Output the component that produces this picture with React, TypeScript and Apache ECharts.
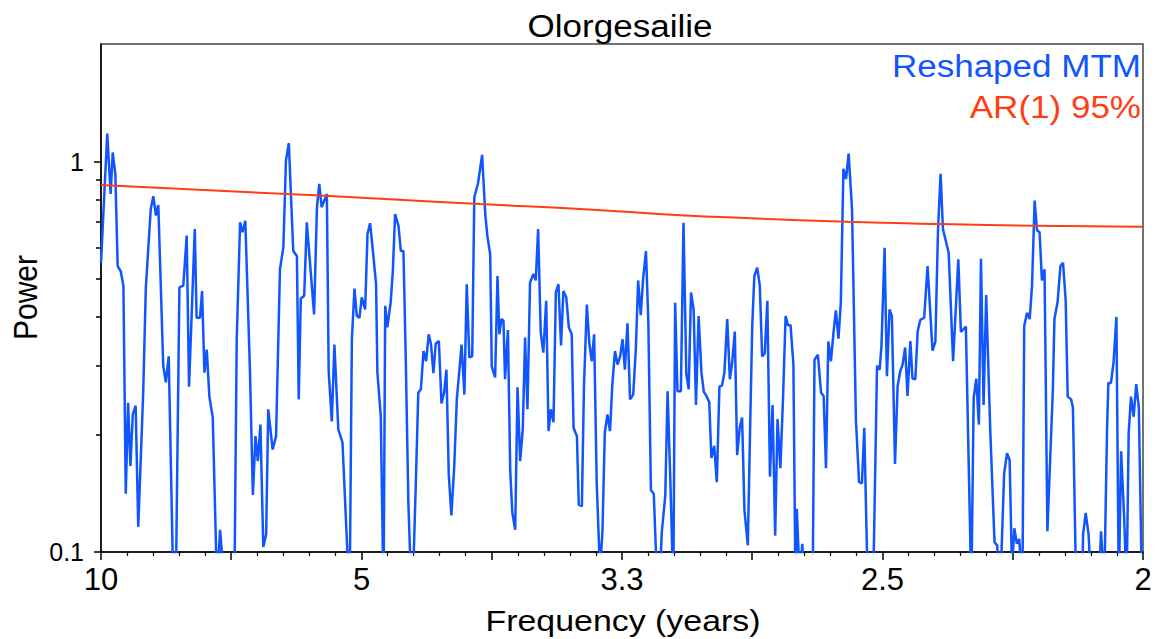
import React, { useEffect, useRef } from "react";
import * as echarts from "echarts";

// Reshaped MTM spectrum: frequency (1/years) and power
const MTM_FREQ = [
  0.1000, 0.1024, 0.1037, 0.1045, 0.1055, 0.1064, 0.1076, 0.1086, 0.1095, 0.1104,
  0.1113, 0.1122, 0.1133, 0.1143, 0.1162, 0.1172, 0.1191, 0.1201, 0.1211, 0.1220,
  0.1239, 0.1249, 0.1260, 0.1275, 0.1285, 0.1301, 0.1316, 0.1329, 0.1338, 0.1360,
  0.1367, 0.1380, 0.1388, 0.1397, 0.1406, 0.1416, 0.1429, 0.1442, 0.1449, 0.1457,
  0.1465, 0.1488, 0.1512, 0.1521, 0.1534, 0.1543, 0.1554, 0.1572, 0.1583, 0.1593,
  0.1602, 0.1612, 0.1623, 0.1634, 0.1642, 0.1659, 0.1672, 0.1687, 0.1700, 0.1710,
  0.1721, 0.1738, 0.1752, 0.1759, 0.1767, 0.1780, 0.1790, 0.1818, 0.1829, 0.1838,
  0.1847, 0.1867, 0.1874, 0.1886, 0.1896, 0.1911, 0.1927, 0.1946, 0.1955, 0.1963,
  0.1973, 0.1982, 0.1992, 0.2001, 0.2014, 0.2023, 0.2033, 0.2043, 0.2056, 0.2061,
  0.2074, 0.2082, 0.2085, 0.2091, 0.2099, 0.2112, 0.2120, 0.2129, 0.2142, 0.2151,
  0.2161, 0.2170, 0.2180, 0.2194, 0.2208, 0.2218, 0.2228, 0.2238, 0.2248, 0.2258,
  0.2267, 0.2276, 0.2285, 0.2297, 0.2307, 0.2317, 0.2326, 0.2335, 0.2345, 0.2356,
  0.2366, 0.2376, 0.2384, 0.2395, 0.2404, 0.2414, 0.2425, 0.2433, 0.2447, 0.2463,
  0.2475, 0.2483, 0.2494, 0.2500, 0.2513, 0.2522, 0.2529, 0.2537, 0.2545, 0.2551,
  0.2562, 0.2571, 0.2579, 0.2590, 0.2599, 0.2609, 0.2619, 0.2628, 0.2637, 0.2647,
  0.2660, 0.2669, 0.2678, 0.2688, 0.2698, 0.2709, 0.2718, 0.2727, 0.2737, 0.2746,
  0.2756, 0.2766, 0.2775, 0.2786, 0.2796, 0.2807, 0.2814, 0.2827, 0.2834, 0.2846,
  0.2854, 0.2865, 0.2875, 0.2884, 0.2893, 0.2903, 0.2913, 0.2918, 0.2925, 0.2934,
  0.2944, 0.2954, 0.2963, 0.2973, 0.2983, 0.2993, 0.3002, 0.3011, 0.3021, 0.3031,
  0.3043, 0.3053, 0.3062, 0.3072, 0.3081, 0.3092, 0.3101, 0.3111, 0.3122, 0.3139,
  0.3153, 0.3166, 0.3175, 0.3185, 0.3197, 0.3204, 0.3213, 0.3226, 0.3236, 0.3247,
  0.3256, 0.3265, 0.3275, 0.3284, 0.3294, 0.3305, 0.3314, 0.3324, 0.3335, 0.3343,
  0.3354, 0.3364, 0.3374, 0.3384, 0.3393, 0.3404, 0.3414, 0.3423, 0.3433, 0.3442,
  0.3452, 0.3461, 0.3470, 0.3483, 0.3493, 0.3500, 0.3508, 0.3519, 0.3529, 0.3538,
  0.3548, 0.3558, 0.3568, 0.3578, 0.3588, 0.3597, 0.3608, 0.3618, 0.3628, 0.3637,
  0.3647, 0.3658, 0.3666, 0.3671, 0.3682, 0.3692, 0.3710, 0.3731, 0.3739, 0.3752,
  0.3764, 0.3774, 0.3783, 0.3792, 0.3802, 0.3812, 0.3821, 0.3831, 0.3840, 0.3850,
  0.3860, 0.3870, 0.3883, 0.3898, 0.3910, 0.3921, 0.3930, 0.3940, 0.3955, 0.3964,
  0.3979, 0.3989, 0.3996, 0.4008, 0.4017, 0.4027, 0.4036, 0.4048, 0.4058, 0.4068,
  0.4077, 0.4087, 0.4096, 0.4107, 0.4115, 0.4126, 0.4135, 0.4145, 0.4160, 0.4173,
  0.4192, 0.4203, 0.4213, 0.4223, 0.4232, 0.4254, 0.4271, 0.4291, 0.4301, 0.4320,
  0.4341, 0.4350, 0.4360, 0.4370, 0.4378, 0.4388, 0.4398, 0.4414, 0.4430, 0.4440,
  0.4452, 0.4467, 0.4478, 0.4488, 0.4497, 0.4506, 0.4516, 0.4525, 0.4537, 0.4544,
  0.4555, 0.4565, 0.4574, 0.4584, 0.4593, 0.4603, 0.4612, 0.4622, 0.4633, 0.4654,
  0.4660, 0.4672, 0.4683, 0.4693, 0.4703, 0.4711, 0.4724, 0.4731, 0.4745, 0.4766,
  0.4770, 0.4780, 0.4791, 0.4818, 0.4839, 0.4851, 0.4862, 0.4867, 0.4877, 0.4887,
  0.4898, 0.4907, 0.4916, 0.4928, 0.4937, 0.4945, 0.4954, 0.4964, 0.4974, 0.4984,
  0.4996, 0.5000,
];

const MTM_POWER = [
  0.55, 1.18, 0.826, 1.055, 0.93, 0.54, 0.523, 0.481, 0.141, 0.241,
  0.166, 0.225, 0.237, 0.116, 0.256, 0.474, 0.756, 0.815, 0.727, 0.774,
  0.299, 0.272, 0.317, 0.099, 0.06, 0.476, 0.481, 0.646, 0.265, 0.672,
  0.398, 0.398, 0.466, 0.288, 0.330, 0.250, 0.221, 0.100, 0.09, 0.114,
  0.098, 0.05, 0.08, 0.351, 0.699, 0.659, 0.705, 0.288, 0.140, 0.198,
  0.171, 0.212, 0.103, 0.111, 0.232, 0.183, 0.198, 0.530, 0.603, 1.006,
  1.115, 0.590, 0.573, 0.246, 0.446, 0.453, 0.699, 0.406, 0.764, 0.877,
  0.764, 0.826, 0.290, 0.216, 0.340, 0.206, 0.191, 0.099, 0.085, 0.350,
  0.473, 0.402, 0.398, 0.449, 0.418, 0.653, 0.695, 0.597, 0.485, 0.288,
  0.223, 0.099, 0.085, 0.427, 0.376, 0.436, 0.520, 0.734, 0.684, 0.590,
  0.590, 0.311, 0.133, 0.07, 0.146, 0.256, 0.261, 0.327, 0.308, 0.361,
  0.340, 0.287, 0.342, 0.347, 0.240, 0.256, 0.293, 0.158, 0.124, 0.166,
  0.247, 0.293, 0.340, 0.253, 0.485, 0.315, 0.317, 0.810, 0.877, 1.04,
  0.734, 0.646, 0.579, 0.299, 0.280, 0.509, 0.361, 0.395, 0.391, 0.277,
  0.370, 0.161, 0.126, 0.114, 0.264, 0.171, 0.206, 0.354, 0.232, 0.490,
  0.515, 0.496, 0.672, 0.365, 0.324, 0.440, 0.204, 0.232, 0.215, 0.462,
  0.485, 0.338, 0.466, 0.449, 0.376, 0.361, 0.208, 0.198, 0.132, 0.131,
  0.266, 0.430, 0.340, 0.308, 0.361, 0.150, 0.099, 0.095, 0.113, 0.202,
  0.225, 0.204, 0.269, 0.327, 0.302, 0.317, 0.351, 0.293, 0.385, 0.246,
  0.253, 0.330, 0.496, 0.404, 0.500, 0.590, 0.391, 0.144, 0.141, 0.07,
  0.113, 0.139, 0.258, 0.157, 0.08, 0.435, 0.258, 0.258, 0.697, 0.285,
  0.261, 0.462, 0.418, 0.238, 0.402, 0.288, 0.257, 0.251, 0.242, 0.174,
  0.187, 0.151, 0.265, 0.267, 0.288, 0.395, 0.277, 0.306, 0.367, 0.177,
  0.208, 0.221, 0.128, 0.104, 0.227, 0.379, 0.509, 0.535, 0.481, 0.317,
  0.323, 0.440, 0.156, 0.238, 0.110, 0.219, 0.164, 0.246, 0.402, 0.381,
  0.381, 0.302, 0.08, 0.129, 0.085, 0.105, 0.06, 0.07, 0.311, 0.320,
  0.256, 0.251, 0.164, 0.346, 0.308, 0.365, 0.416, 0.352, 0.436, 0.958,
  0.902, 1.048, 0.756, 0.218, 0.151, 0.150, 0.208, 0.103, 0.07, 0.08,
  0.300, 0.293, 0.337, 0.601, 0.282, 0.418, 0.402, 0.168, 0.266, 0.290,
  0.302, 0.334, 0.251, 0.347, 0.278, 0.277, 0.367, 0.393, 0.398, 0.540,
  0.328, 0.346, 0.667, 0.93, 0.672, 0.584, 0.308, 0.562, 0.366, 0.378,
  0.08, 0.248, 0.278, 0.212, 0.564, 0.238, 0.455, 0.202, 0.106, 0.104,
  0.08, 0.159, 0.179, 0.172, 0.09, 0.115, 0.105, 0.108, 0.08, 0.379,
  0.410, 0.395, 0.481, 0.794, 0.667, 0.659, 0.496, 0.530, 0.113, 0.261,
  0.395, 0.436, 0.540, 0.550, 0.444, 0.250, 0.246, 0.234, 0.07, 0.08,
  0.111, 0.126, 0.111, 0.05, 0.113, 0.08, 0.206, 0.271, 0.271, 0.306,
  0.400, 0.08, 0.181, 0.121, 0.08, 0.202, 0.250, 0.222, 0.269, 0.234,
  0.08, 0.07,
];

// AR(1) 95% confidence curve
const AR_FREQ = [0.1, 0.1534, 0.2109, 0.2455, 0.2839, 0.3223, 0.3492, 0.3868, 0.4223, 0.4584, 0.5];
const AR_POWER = [0.871, 0.837, 0.801, 0.778, 0.756, 0.729, 0.716, 0.701, 0.692, 0.685, 0.681];

// Axis ticks / labels
const X_LABELS: Record<number, string> = { 10: "10", 20: "5", 30: "3.3", 40: "2.5", 50: "2" };
const Y_MAJOR = [0.1, 1];
const Y_MINOR = [0.2, 0.3, 0.4, 0.5, 0.6, 0.7, 0.8, 0.9];
const Y_MIN = 0.1;
const Y_MAX = 2;

const FONT = '"Liberation Sans", Arial, Helvetica, sans-serif';
const BLUE = "#1155ff";
const RED = "#ff3d12";
const STRETCH = 1.13;

export default function App() {
  const ref = useRef<HTMLDivElement>(null);

  useEffect(() => {
    document.body.style.margin = "0";
    if (!ref.current) return;
    const chart = echarts.init(ref.current, null, { renderer: "svg" });
    const lg = (v: number) => Math.log10(v);

    const option: any = {
      animation: false,
      backgroundColor: "#ffffff",
      grid: {
        left: 101,
        top: 44,
        right: 25,
        bottom: 87,
        show: true,
        borderColor: "#444",
        borderWidth: 1.5,
        backgroundColor: "transparent",
      },
      xAxis: {
        type: "value",
        min: 0.1,
        max: 0.5,
        interval: 0.05,
        axisLine: { show: true, onZero: false, lineStyle: { color: "#000", width: 1.5 } },
        axisTick: { show: true, length: 8, lineStyle: { color: "#000", width: 1.5 } },
        minorTick: { show: true, splitNumber: 5, length: 4, lineStyle: { color: "#000", width: 1.2 } },
        splitLine: { show: false },
        axisLabel: {
          margin: 12,
          fontSize: 31,
          fontFamily: FONT,
          color: "#000",
          formatter: (v: number) => X_LABELS[Math.round(v * 100)] ?? "",
        },
      },
      yAxis: [
        {
          type: "value",
          min: lg(Y_MIN),
          max: lg(Y_MAX),
          axisLine: { show: true, onZero: false, lineStyle: { color: "#000", width: 1.5 } },
          axisTick: {
            show: true,
            length: 7,
            customValues: Y_MAJOR.map(lg),
            lineStyle: { color: "#000", width: 1.5 },
          },
          splitLine: { show: false },
          axisLabel: {
            margin: 17,
            fontSize: 25,
            fontFamily: FONT,
            color: "#000",
            customValues: Y_MAJOR.map(lg),
            formatter: (v: number) => {
              const p = Math.pow(10, v);
              return p < 0.5 ? "0.1" : "1";
            },
          },
        },
        {
          type: "value",
          position: "left",
          offset: 0,
          min: lg(Y_MIN),
          max: lg(Y_MAX),
          axisLine: { show: false },
          axisTick: {
            show: true,
            length: 5,
            customValues: Y_MINOR.map(lg),
            lineStyle: { color: "#000", width: 1.5 },
          },
          splitLine: { show: false },
          axisLabel: { show: false },
        },
      ],
      series: [
        {
          name: "Reshaped MTM",
          type: "line",
          yAxisIndex: 0,
          data: MTM_FREQ.map((f, i) => [f, lg(MTM_POWER[i])]),
          showSymbol: false,
          symbol: "none",
          clip: true,
          lineStyle: { color: BLUE, width: 2.5 },
          z: 3,
        },
        {
          name: "AR(1) 95%",
          type: "line",
          yAxisIndex: 0,
          data: AR_FREQ.map((f, i) => [f, lg(AR_POWER[i])]),
          showSymbol: false,
          symbol: "none",
          smooth: 0.5,
          clip: true,
          lineStyle: { color: RED, width: 2 },
          z: 4,
        },
      ],
      graphic: [
        {
          type: "text",
          x: 620,
          y: 26,
          scaleX: STRETCH,
          style: { text: "Olorgesailie", font: `31px ${FONT}`, fill: "#000", textAlign: "center", textVerticalAlign: "middle" },
        },
        {
          type: "text",
          x: 1141,
          y: 66.5,
          scaleX: STRETCH,
          style: { text: "Reshaped MTM", font: `31px ${FONT}`, fill: BLUE, textAlign: "right", textVerticalAlign: "middle" },
        },
        {
          type: "text",
          x: 1141,
          y: 107.5,
          scaleX: STRETCH,
          style: { text: "AR(1) 95%", font: `31px ${FONT}`, fill: RED, textAlign: "right", textVerticalAlign: "middle" },
        },
        {
          type: "text",
          x: 25,
          y: 297.5,
          rotation: Math.PI / 2,
          scaleY: STRETCH,
          style: { text: "Power", font: `30px ${FONT}`, fill: "#000", textAlign: "center", textVerticalAlign: "middle" },
        },
        {
          type: "text",
          x: 623,
          y: 621,
          scaleX: STRETCH,
          style: { text: "Frequency (years)", font: `30px ${FONT}`, fill: "#000", textAlign: "center", textVerticalAlign: "middle" },
        },
      ],
    };

    chart.setOption(option);
    return () => chart.dispose();
  }, []);

  return <div ref={ref} style={{ width: 1168, height: 639 }} />;
}
